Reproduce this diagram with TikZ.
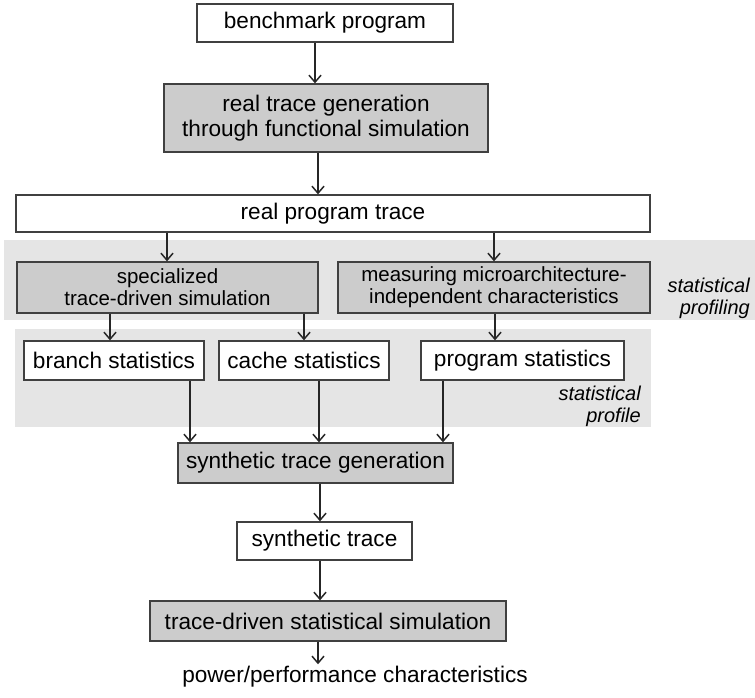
\documentclass[tikz,border=0pt]{standalone}
\usepackage{fontspec}
\setmainfont{Liberation Sans}
\usetikzlibrary{arrows.meta}

\definecolor{edgegray}{gray}{0.25}
\definecolor{boxgray}{gray}{0.80}
\definecolor{bandgray}{gray}{0.90}

\tikzset{
  basebox/.style={draw=edgegray, line width=1.3pt, inner sep=0pt, align=center,
    font=\fontsize{22.6}{25}\selectfont},
  whitebox/.style={basebox, fill=white},
  graybox/.style={basebox, fill=boxgray},
  smalltext/.style={font=\fontsize{20.5}{22}\selectfont},
  sidelabel/.style={font=\fontsize{20}{22}\selectfont\itshape, align=right, inner sep=0pt},
  flow/.style={draw=black!85, line width=1.1pt,
    -{Straight Barb[length=7pt,width=12pt,line width=1.5pt]}},
}

\begin{document}
\begin{tikzpicture}[x=1pt, y=-1pt]
  \useasboundingbox (0,0) rectangle (755,697);

  % shaded bands behind the profiling stage and the profile
  \fill[bandgray] (4,240) rectangle (755,320);
  \fill[bandgray] (15,329) rectangle (651,427);

  % boxes
  \node[whitebox, minimum width=256pt, minimum height=38pt] (bench) at (325,23) {benchmark program};
  \node[graybox, minimum width=324pt, minimum height=68pt] (realgen) at (326,118)
    {real trace generation\\through functional simulation};
  \node[whitebox, minimum width=634pt, minimum height=37pt] (realtrace) at (333,213.5) {real program trace};

  \node[graybox, smalltext, minimum width=301pt, minimum height=51pt] (spec) at (167.5,287.5)
    {specialized\\trace-driven simulation};
  \node[graybox, smalltext, minimum width=312pt, minimum height=51pt] (meas) at (494,287.5)
    {measuring microarchitecture-\\independent characteristics};
  \node[sidelabel, anchor=east] (proflbl) at (750,298) {statistical\\profiling};

  \node[whitebox, minimum width=180pt, minimum height=39pt] (branch) at (114,360.5) {branch statistics};
  \node[whitebox, minimum width=170pt, minimum height=39pt] (cache) at (304,360.5) {cache statistics};
  \node[whitebox, minimum width=203pt, minimum height=39pt] (prog) at (522.5,360.5) {program statistics};
  \node[sidelabel, anchor=east] (profile) at (641,406) {statistical\\profile};

  \node[graybox, minimum width=275pt, minimum height=40pt] (synthgen) at (315.5,463) {synthetic trace generation};
  \node[whitebox, minimum width=175pt, minimum height=38pt] (synth) at (324.5,541) {synthetic trace};
  \node[graybox, minimum width=356pt, minimum height=40pt] (tdss) at (328,621) {trace-driven statistical simulation};
  \node[font=\fontsize{22.6}{25}\selectfont, inner sep=2pt] (power) at (355,677) {power/performance characteristics};

  % connectors
  \draw[flow] (bench.south -| 315,0) -- (realgen.north -| 315,0);
  \draw[flow] (realgen.south -| 318,0) -- (realtrace.north -| 318,0);
  \draw[flow] (realtrace.south -| 167,0) -- (spec.north -| 167,0);
  \draw[flow] (realtrace.south -| 494,0) -- (meas.north -| 494,0);
  \draw[flow] (spec.south -| 110,0) -- (branch.north -| 110,0);
  \draw[flow] (spec.south -| 304,0) -- (cache.north -| 304,0);
  \draw[flow] (meas.south -| 495,0) -- (prog.north -| 495,0);
  \draw[flow] (branch.south -| 190,0) -- (synthgen.north -| 190,0);
  \draw[flow] (cache.south -| 319,0) -- (synthgen.north -| 319,0);
  \draw[flow] (prog.south -| 443,0) -- (synthgen.north -| 443,0);
  \draw[flow] (synthgen.south -| 320,0) -- (synth.north -| 320,0);
  \draw[flow] (synth.south -| 320,0) -- (tdss.north -| 320,0);
  \draw[flow] (tdss.south -| 318,0) -- (power.north -| 318,0);
\end{tikzpicture}
\end{document}
